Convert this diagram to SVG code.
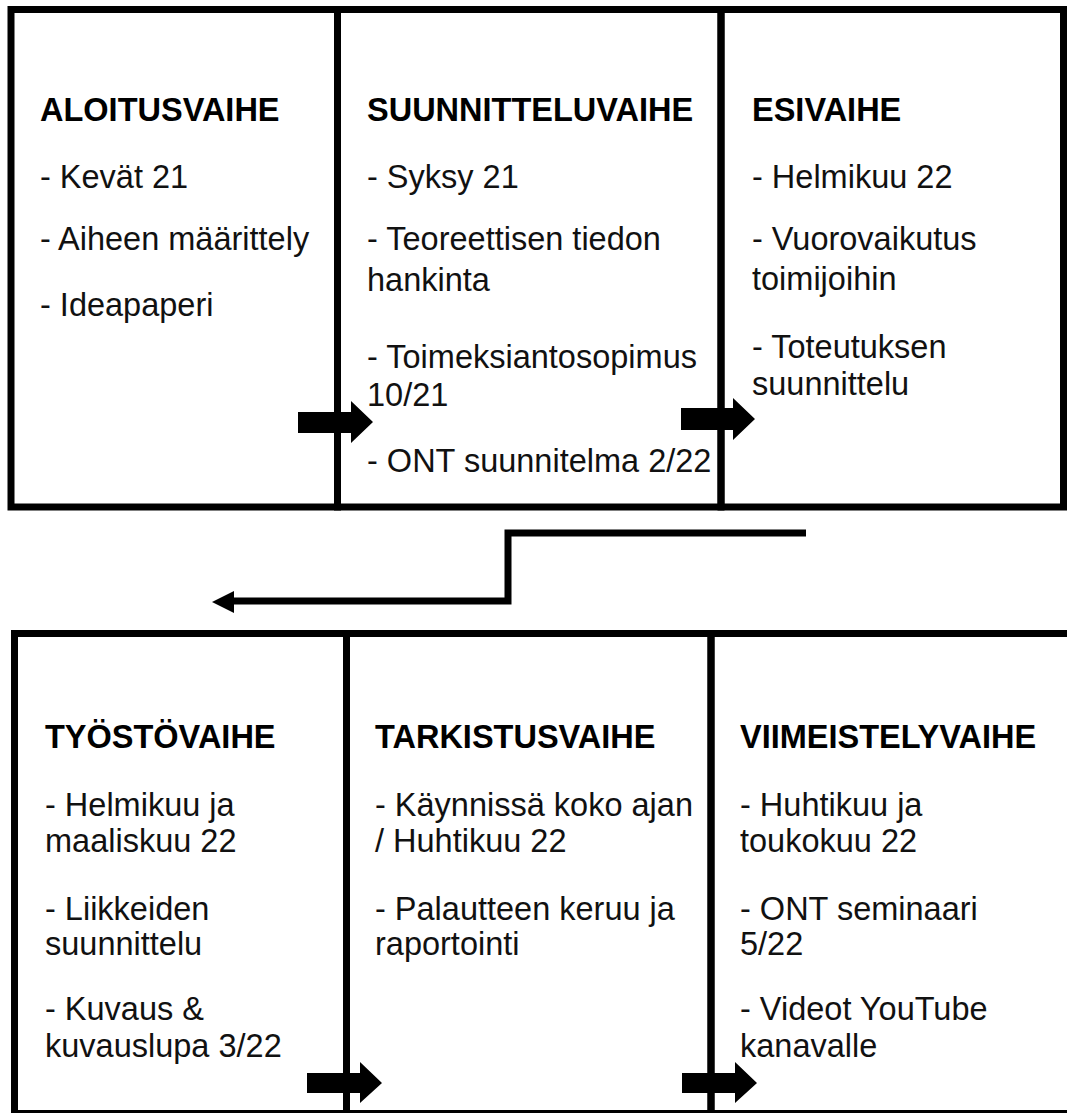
<svg xmlns="http://www.w3.org/2000/svg" width="1067" height="1113" viewBox="0 0 1067 1113">
<style>
.box{fill:none;stroke:#000;stroke-width:7}
.t{font-family:"Liberation Sans",Arial,sans-serif;font-size:32.5px;fill:#111}
.h{font-weight:bold;fill:#000}
.conn{fill:none;stroke:#000;stroke-width:7}
.blk{fill:#000}
</style>
<rect width="1067" height="1113" fill="#fff"/>
<g id="aloitusvaihe">
<rect class="box" x="11" y="9.5" width="326.5" height="497.5"/>
<text class="t h" x="40" y="121">ALOITUSVAIHE</text>
<text class="t" x="40" y="188">- Kevät 21</text>
<text class="t" x="40" y="250">- Aiheen määrittely</text>
<text class="t" x="40" y="316">- Ideapaperi</text>
</g>
<g id="suunnitteluvaihe">
<rect class="box" x="337.5" y="9.5" width="383.5" height="497.5"/>
<text class="t h" x="367" y="121">SUUNNITTELUVAIHE</text>
<text class="t" x="367" y="188">- Syksy 21</text>
<text class="t" x="367" y="250">- Teoreettisen tiedon</text>
<text class="t" x="367" y="291">hankinta</text>
<text class="t" x="367" y="368">- Toimeksiantosopimus</text>
<text class="t" x="367" y="406">10/21</text>
<text class="t" x="367" y="472">- ONT suunnitelma 2/22</text>
</g>
<g id="esivaihe">
<rect class="box" x="721" y="9.5" width="342.5" height="497.5"/>
<text class="t h" x="752" y="121">ESIVAIHE</text>
<text class="t" x="752" y="188">- Helmikuu 22</text>
<text class="t" x="752" y="250">- Vuorovaikutus</text>
<text class="t" x="752" y="290">toimijoihin</text>
<text class="t" x="752" y="358">- Toteutuksen</text>
<text class="t" x="752" y="395">suunnittelu</text>
</g>
<g id="tyostovaihe">
<rect class="box" x="14.5" y="633.5" width="332" height="480"/>
<text class="t h" x="45" y="748">TYÖSTÖVAIHE</text>
<text class="t" x="45" y="816">- Helmikuu ja</text>
<text class="t" x="45" y="852">maaliskuu 22</text>
<text class="t" x="45" y="920">- Liikkeiden</text>
<text class="t" x="45" y="955">suunnittelu</text>
<text class="t" x="45" y="1020">- Kuvaus &amp;</text>
<text class="t" x="45" y="1057">kuvauslupa 3/22</text>
</g>
<g id="tarkistusvaihe">
<rect class="box" x="346.5" y="633.5" width="364.5" height="480"/>
<text class="t h" x="375" y="748">TARKISTUSVAIHE</text>
<text class="t" x="375" y="816">- Käynnissä koko ajan</text>
<text class="t" x="375" y="852">/ Huhtikuu 22</text>
<text class="t" x="375" y="920">- Palautteen keruu ja</text>
<text class="t" x="375" y="955">raportointi</text>
</g>
<g id="viimeistelyvaihe">
<rect class="box" x="711" y="633.5" width="370" height="480"/>
<text class="t h" x="740" y="748">VIIMEISTELYVAIHE</text>
<text class="t" x="740" y="816">- Huhtikuu ja</text>
<text class="t" x="740" y="852">toukokuu 22</text>
<text class="t" x="740" y="920">- ONT seminaari</text>
<text class="t" x="740" y="955">5/22</text>
<text class="t" x="740" y="1020">- Videot YouTube</text>
<text class="t" x="740" y="1057">kanavalle</text>
</g>
<g id="connectors">
<polygon class="blk" points="298,412 351,412 351,401 373,422 351,443 351,433 298,433"/>
<polygon class="blk" points="681,408 733,408 733,398 755,419 733,440 733,430 681,430"/>
<polygon class="blk" points="307,1073 360,1073 360,1062 382,1083 360,1103 360,1093 307,1093"/>
<polygon class="blk" points="682,1073 735,1073 735,1062 757,1083 735,1103 735,1093 682,1093"/>
<polyline class="conn" points="806,533 508,533 508,601 232,601"/>
<polygon class="blk" points="212,602 234,591 234,613"/>
</g>
</svg>
